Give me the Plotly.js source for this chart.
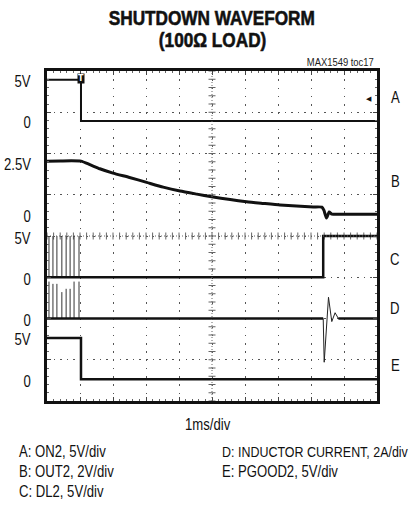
<!DOCTYPE html>
<html><head><meta charset="utf-8">
<script src="https://cdn.plot.ly/plotly-3.0.1.min.js"></script>
<style>html,body{margin:0;padding:0;background:#fff}#chart{width:415px;height:506px}</style>
</head><body><div id="chart"></div>
<script>
// ---- data (time in ms, 1 ms/div) ----
const timeRangeMs = [0, 10];
// A: ON2 (V)
const onTimeMs = [0, 1.03, 1.03, 10];
const onVolts  = [5, 5, 0, 0];
// B: OUT2 (V)
const outTimeMs = [0, 0.4, 1.03, 1.3, 1.6, 2.0, 2.5, 3.02, 3.52, 4.03, 4.54, 4.99, 5.55, 6.05, 6.55, 7.06, 7.56, 8.07, 8.33, 8.39, 8.47, 8.55, 8.63, 8.75, 10];
const outVolts  = [2.57, 2.58, 2.57, 2.40, 2.20, 1.99, 1.78, 1.54, 1.31, 1.12, 0.97, 0.84, 0.71, 0.60, 0.52, 0.44, 0.39, 0.35, 0.34, 0.19, -0.19, 0.10, 0.0, 0.0, 0.0];
// C: DL2 (V)
const dlPulseTimeMs = [0.06, 0.18, 0.30, 0.45, 0.58, 0.70, 0.82, 0.97];
const dlPulseVolts  = [5, 5, 5, 5, 5, 5, 5, 5];
const dlTimeMs = [0, 8.37, 8.37, 10];
const dlVolts  = [0, 0, 5, 5];
// D: inductor current (A)
const ilPulseTimeMs = [0.06, 0.18, 0.30, 0.45, 0.58, 0.70, 0.82, 0.97];
const ilPulseAmps   = [1.79, 1.68, 1.68, 1.28, 1.44, 1.44, 1.79, 1.79];
const ilTimeMs = [0, 8.37, 8.40, 8.53, 8.63, 8.73, 8.83, 10];
const ilAmps   = [0, 0, -2.12, 1.03, -0.15, 0.28, 0, 0];
// E: PGOOD2 (V)
const pgTimeMs = [0, 1.03, 1.03, 10];
const pgVolts  = [5, 5, 0, 0];
// tick labels per channel
const onTicks = [5, 0], outTicks = [2.5, 0], dlTicks = [5, 0], ilTicks = [0], pgTicks = [5, 0];
const channelLetters = ['A', 'B', 'C', 'D', 'E'];
const legendLines = ['A: ON2, 5V/div', 'B: OUT2, 2V/div', 'C: DL2, 5V/div', 'D: INDUCTOR CURRENT, 2A/div', 'E: PGOOD2, 5V/div'];
const triggerTimeMs = 1.03;

// ---- scope screen setup (divisions) ----
const ch = {
  A: {zero: 6.79, perDiv: 5},
  B: {zero: 4.53, perDiv: 2},
  C: {zero: 3.0,  perDiv: 5},
  D: {zero: 2.0,  perDiv: 2},
  E: {zero: 0.53, perDiv: 5}
};
const toDiv = (c, arr) => arr.map(v => v === null ? null : ch[c].zero + v / ch[c].perDiv);
const FONT = "'Liberation Sans',Arial,sans-serif";
const INK = '#111';

function spikes(ts, vs) {
  const x = [], y = [];
  ts.forEach((t, i) => { x.push(t, t, null); y.push(0, vs[i], null); });
  return {x, y};
}
const dlP = spikes(dlPulseTimeMs, dlPulseVolts);
const ilP = spikes(ilPulseTimeMs, ilPulseAmps);

const traces = [];
// center-cross tick marks (graticule decoration)
const cx = [], cy = [], hx = [], hy = [];
for (let k = 0; k <= 40; k++) { cx.push(5); cy.push(k * 0.2); }
for (let k = 0; k <= 50; k++) { hx.push(k * 0.2); hy.push(4); }
traces.push(
  {x: cx, y: cy, mode: 'markers', marker: {symbol: 'line-ew', size: 5, line: {width: 1, color: '#666'}}, hoverinfo: 'skip'},
  {x: hx, y: hy, mode: 'markers', marker: {symbol: 'line-ns', size: 5, line: {width: 1, color: '#666'}}, hoverinfo: 'skip'}
);
traces.push(
  {x: onTimeMs, y: toDiv('A', onVolts), mode: 'lines', line: {color: INK, width: 2}},
  {x: outTimeMs, y: toDiv('B', outVolts), mode: 'lines', line: {color: INK, width: 3, shape: 'spline', smoothing: 0.5}},
  {x: dlP.x, y: toDiv('C', dlP.y), mode: 'lines', line: {color: '#333', width: 1}},
  {x: dlTimeMs, y: toDiv('C', dlVolts), mode: 'lines', line: {color: INK, width: 2.5}},
  {x: ilP.x, y: toDiv('D', ilP.y), mode: 'lines', line: {color: '#333', width: 1}},
  {x: ilTimeMs, y: toDiv('D', ilAmps), mode: 'lines', line: {color: '#222', width: 1}},
  {x: ilTimeMs, y: toDiv('D', ilAmps.map(v => v === 0 ? 0 : null)), mode: 'lines', connectgaps: false, line: {color: INK, width: 2.5}},
  {x: pgTimeMs, y: toDiv('E', pgVolts), mode: 'lines', line: {color: INK, width: 2.5}}
);

const ann = [];
const narrowOrigin = [];
const heavy = [];
function addText(a, origin, isHeavy) { ann.push(a); narrowOrigin.push(origin); heavy.push(!!isHeavy); }
function leftLabel(c, vals) {
  vals.forEach(v => addText({
    xref: 'paper', x: 0, xshift: -14, xanchor: 'right', yref: 'y', y: ch[c].zero + v / ch[c].perDiv, yshift: -2,
    yanchor: 'middle', text: v === 0 ? '0' : v + 'V', showarrow: false, font: {family: FONT, size: 16, color: INK}
  }, 'right'));
}
leftLabel('A', onTicks); leftLabel('B', outTicks); leftLabel('C', dlTicks); leftLabel('D', ilTicks); leftLabel('E', pgTicks);
const letterDiv = [7.35, 5.33, 3.44, 2.25, 0.85];
channelLetters.forEach((L, i) => addText({
  xref: 'paper', x: 1, xshift: 18, xanchor: 'center', yref: 'y', y: letterDiv[i], yanchor: 'middle',
  text: L, showarrow: false, font: {family: FONT, size: 16, color: INK}
}, 'center'));
// title (two lines)
addText({xref: 'paper', x: 0.5, y: 1.162, yref: 'paper', yanchor: 'middle', showarrow: false,
  text: 'SHUTDOWN WAVEFORM', font: {family: FONT, size: 21, weight: 'bold', color: INK}}, 'center', true);
addText({xref: 'paper', x: 0.5, y: 1.094, yref: 'paper', yanchor: 'middle', showarrow: false,
  text: '(100Ω LOAD)', font: {family: FONT, size: 21, weight: 'bold', color: INK}}, 'center', true);
addText({xref: 'paper', x: 1, xshift: -1, xanchor: 'right', y: 1.027, yref: 'paper', yanchor: 'middle', showarrow: false,
  text: 'MAX1549 toc17', font: {family: FONT, size: 11.5, color: '#222'}}, 'right');
// x scale label
addText({xref: 'paper', x: 0.485, y: -0.0697, yref: 'paper', yanchor: 'middle', showarrow: false,
  text: '1ms/div', font: {family: FONT, size: 16, color: INK}}, 'center');
// channel legend
const legPos = [[-0.0909, -0.153], [-0.0909, -0.2136], [-0.0909, -0.274], [0.524, -0.153], [0.524, -0.2136]];
const legSize = [16, 16, 16, 15.2, 16];
legendLines.forEach((t, i) => addText({xref: 'paper', x: legPos[i][0], xanchor: 'left', yref: 'paper', y: legPos[i][1], yanchor: 'middle',
  showarrow: false, text: t, font: {family: FONT, size: legSize[i], color: INK}}, 'left'));
// trigger markers
addText({xref: 'x', x: triggerTimeMs, yref: 'paper', y: 1, yanchor: 'top', yshift: -2, showarrow: false, text: 'T',
  bgcolor: INK, borderpad: 0, font: {family: 'DejaVu Sans', size: 8, weight: 'bold', color: '#fff'}}, null);
addText({xref: 'paper', x: 1, xanchor: 'right', xshift: -3, yref: 'y', y: 7.32, yanchor: 'middle', showarrow: false, text: '◀',
  font: {family: 'DejaVu Sans', size: 7, color: INK}}, null);

const layout = {
  width: 415, height: 506,
  margin: {l: 47, r: 38, t: 71, b: 105},
  paper_bgcolor: '#fff', plot_bgcolor: '#fff',
  showlegend: false,
  xaxis: {range: timeRangeMs, dtick: 1, tick0: 0, showgrid: true, gridcolor: '#555', gridwidth: 1, griddash: '1.5px,6.75px',
    zeroline: false, showticklabels: false, ticks: 'inside', ticklen: 4, tickcolor: '#444', mirror: 'allticks',
    minor: {dtick: 0.2, ticks: 'inside', ticklen: 2, tickcolor: '#666', showgrid: false},
    showline: true, linecolor: INK, linewidth: 3, fixedrange: true},
  yaxis: {range: [0, 8], dtick: 1, tick0: 0, showgrid: true, gridcolor: '#555', gridwidth: 1, griddash: '1.5px,5.1px',
    zeroline: false, showticklabels: false, ticks: 'inside', ticklen: 4, tickcolor: '#444', mirror: 'allticks',
    minor: {dtick: 0.2, ticks: 'inside', ticklen: 2, tickcolor: '#666', showgrid: false},
    showline: true, linecolor: INK, linewidth: 3, fixedrange: true},
  shapes: [
    {type: 'line', xref: 'x', yref: 'paper', x0: 5, x1: 5, y0: 0, y1: 1, line: {color: '#666', width: 1, dash: '1px,2px'}},
    {type: 'line', xref: 'paper', yref: 'y', x0: 0, x1: 1, y0: 4, y1: 4, line: {color: '#666', width: 1, dash: '1px,2px'}}
  ],
  annotations: ann
};

// condense text horizontally (Helvetica Condensed look), keeping the anchored edge fixed
function condense(gd) {
  gd.querySelectorAll('.annotation').forEach(g => {
    const i = +g.getAttribute('data-index');
    const o = narrowOrigin[i];
    if (!o) return;
    const t = g.querySelector('text.annotation-text');
    if (!t) return;
    t.style.transformBox = 'fill-box';
    t.style.transformOrigin = o + ' center';
    t.style.transform = 'scaleX(0.82)';
    if (heavy[i]) { t.style.stroke = INK; t.style.strokeWidth = '0.6px'; }
  });
}
Plotly.newPlot('chart', traces, layout, {displayModeBar: false, staticPlot: true}).then(condense);
</script>
</body></html>
